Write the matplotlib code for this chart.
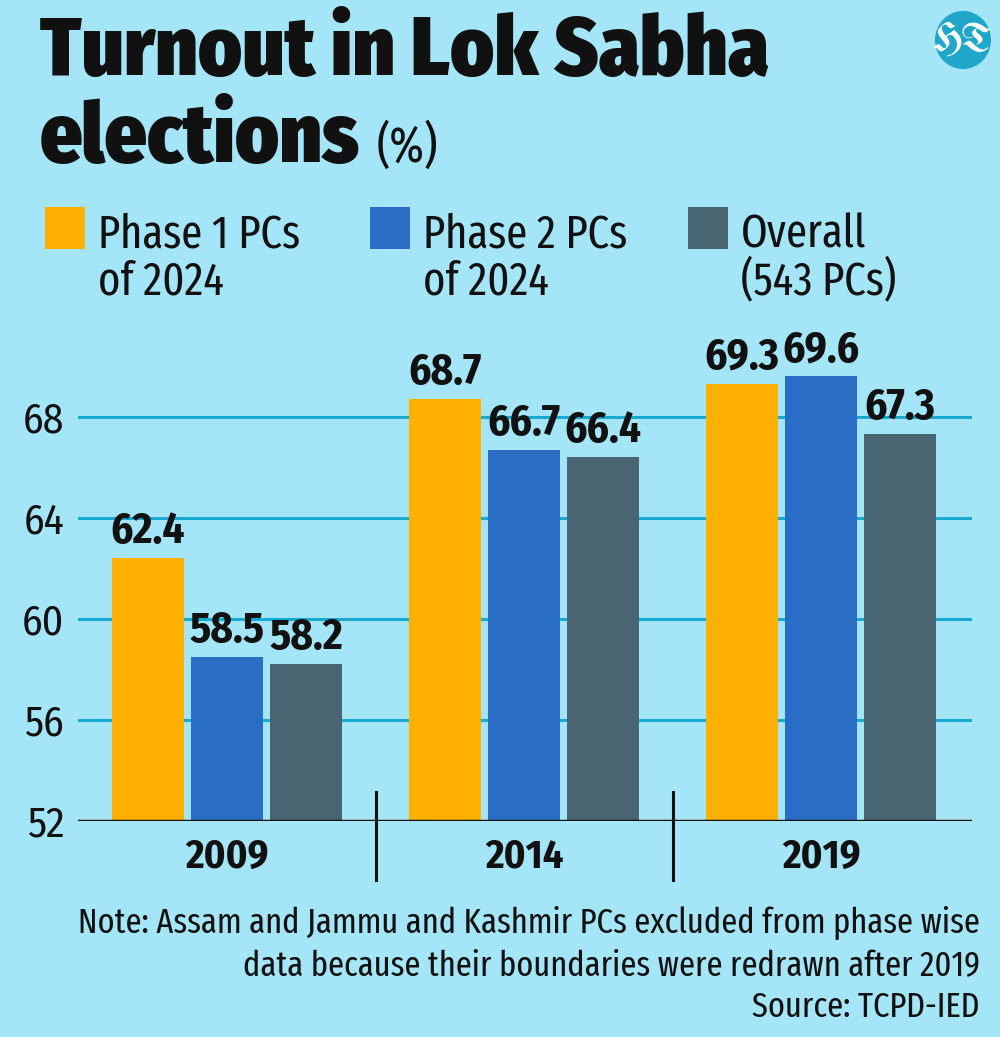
import matplotlib
matplotlib.use("Agg")
import matplotlib.pyplot as plt
from matplotlib.patches import Rectangle, Circle
import numpy as np

years = ["2009", "2014", "2019"]
series_names = ["Phase 1 PCs\nof 2024", "Phase 2 PCs\nof 2024", "Overall\n(543 PCs)"]
phase1 = [62.4, 68.7, 69.3]
phase2 = [58.5, 66.7, 69.6]
overall = [58.2, 66.4, 67.3]
yticks = [52, 56, 60, 64, 68]

BG = "#A4E5F7"
GRID = "#17A9CF"
COLORS = ["#FFB000", "#2A6DC4", "#4A6572"]
FONT = ["Fira Sans Condensed", "DejaVu Sans"]
FONT_XC = ["Fira Sans Extra Condensed", "Fira Sans Condensed", "DejaVu Sans"]
INK = "#111111"

W, H = 1000, 1037
fig = plt.figure(figsize=(W / 100, H / 100), dpi=100, facecolor=BG)
renderer = fig.canvas.get_renderer()

def fx(x):
    return x / W

def fy(y):
    return 1 - y / H

def fit(t, target_w):
    w = t.get_window_extent(renderer).width
    t.set_fontsize(t.get_fontsize() * target_w / w)
    return t

# axes: left 78, right 972, bottom 821, top 341
ax_l, ax_r, ax_b, ax_t = 78, 972, 821, 341
ppu = (ax_b - ax_t) / 19.0
ax = fig.add_axes([fx(ax_l), fy(ax_b), fx(ax_r - ax_l), (ax_b - ax_t) / H])
ax.set_facecolor(BG)
ax.set_ylim(52, 71)
ax.set_xlim(-0.502, 2.508)

x = np.arange(len(years))
width = 0.242
step = 0.266
for i, (vals, c) in enumerate(zip([phase1, phase2, overall], COLORS)):
    pos = x + (i - 1) * step
    ax.bar(pos, np.array(vals) - 52, bottom=52, width=width, color=c, zorder=3)
    for p, v in zip(pos, vals):
        ax.text(p, v + 15 / ppu, f"{v}", ha="center", va="baseline", fontsize=31,
                fontweight=700, family=FONT, color=INK, zorder=4)

for t in yticks[1:]:
    ax.axhline(t, color=GRID, lw=2.2, zorder=1)
ax.axhline(52, color=INK, lw=2.5, zorder=5)

ax.set_yticks(yticks)
ax.set_yticklabels([str(t) for t in yticks], fontsize=30, family=FONT, color=INK)
ax.tick_params(axis="y", length=0, pad=10)
ax.set_xticks([])
for s in ax.spines.values():
    s.set_visible(False)

# separators and year labels
for xs in [0.5, 1.5]:
    ax.plot([xs, xs], [52 + 29 / ppu, 52 - 59 / ppu], color=INK, lw=2.2,
            clip_on=False, zorder=5)
for xi, yr in zip(x, years):
    ax.text(xi, 52 - 47 / ppu, yr, ha="center", va="baseline", fontsize=29,
            fontweight=700, family=FONT, color=INK)

# title
t1 = fig.text(fx(40), fy(75), "Turnout in Lok Sabha", fontsize=62, fontweight=900,
              family=FONT, color=INK, ha="left", va="baseline")
fit(t1, 730)
fig.text(fx(40), fy(162), "elections", fontsize=t1.get_fontsize(), fontweight=900,
         family=FONT, color=INK, ha="left", va="baseline")
fig.text(fx(377), fy(162), "(%)", fontsize=36, family=FONT_XC, color=INK,
         ha="left", va="baseline")

# logo
logo = Circle((fx(963), fy(40)), radius=28 / W, transform=fig.transFigure,
              facecolor="#1FA6C9", edgecolor="none")
fig.patches.append(logo)
fig.text(fx(962), fy(41), "HT", fontsize=29, fontweight="bold",
         family=["UnifrakturMaguntia", "UnifrakturCook", "DejaVu Serif"],
         color="white", ha="center", va="center")

# legend
leg_x = [45, 370, 688]
leg_size = None
for k, (lx, c, name) in enumerate(zip(leg_x, COLORS, series_names)):
    fig.patches.append(Rectangle((fx(lx), fy(249)), 40 / W, 42 / H,
                                 transform=fig.transFigure, facecolor=c, edgecolor="none"))
    l1, l2 = name.split("\n")
    ta = fig.text(fx(lx + 53), fy(247), l1, fontsize=33 if leg_size is None else leg_size,
                  family=FONT_XC, color=INK, ha="left", va="baseline")
    if leg_size is None:
        fit(ta, 202)
        leg_size = ta.get_fontsize()
    fig.text(fx(lx + 53), fy(294), l2, fontsize=leg_size, family=FONT_XC,
             color=INK, ha="left", va="baseline")

# note
notes = ["Note: Assam and Jammu and Kashmir PCs excluded from phase wise",
         "data because their boundaries were redrawn after 2019",
         "Source: TCPD-IED"]
n_size = None
for yy, s in zip([933, 975, 1017], notes):
    tn = fig.text(fx(980), fy(yy), s, fontsize=28 if n_size is None else n_size,
                  family=FONT_XC, color=INK, ha="right", va="baseline")
    if n_size is None:
        fit(tn, 900)
        n_size = tn.get_fontsize()

fig.savefig("out.png", dpi=100, facecolor=BG)
